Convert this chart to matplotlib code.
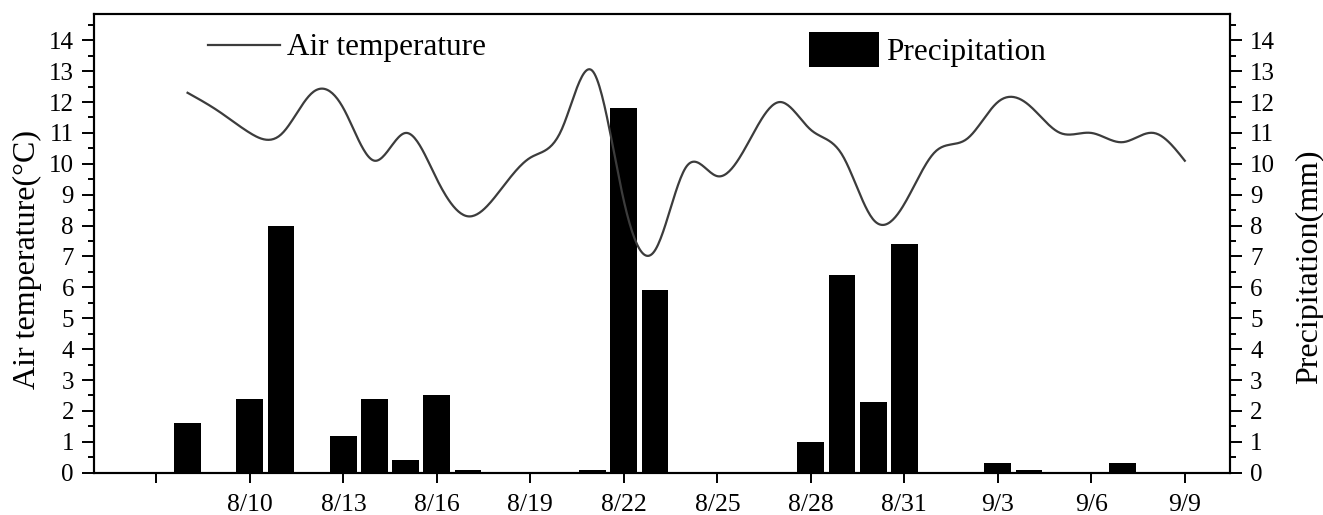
import matplotlib
matplotlib.use("Agg")
import matplotlib.pyplot as plt
import numpy as np
from matplotlib.lines import Line2D
from matplotlib.patches import Patch
from matplotlib.ticker import MultipleLocator

# daily air temperature, 8/8 .. 9/9
temp_dates = [
    "8/8", "8/9", "8/10", "8/11", "8/12", "8/13", "8/14", "8/15", "8/16",
    "8/17", "8/18", "8/19", "8/20", "8/21", "8/22", "8/23", "8/24", "8/25",
    "8/26", "8/27", "8/28", "8/29", "8/30", "8/31", "9/1", "9/2", "9/3",
    "9/4", "9/5", "9/6", "9/7", "9/8", "9/9",
]
temp_values = [
    12.3, 11.7, 11.0, 10.95, 12.3, 11.8, 10.1, 11.0, 9.5,
    8.3, 9.1, 10.2, 11.1, 13.0, 8.8, 7.2, 9.9, 9.6,
    10.7, 12.0, 11.1, 10.3, 8.2, 8.7, 10.4, 10.8, 12.0,
    11.9, 11.0, 11.0, 10.7, 11.0, 10.1,
]

# days with precipitation (mm)
precip_dates = [
    "8/8", "8/10", "8/11", "8/13", "8/14", "8/15", "8/16", "8/17", "8/21",
    "8/22", "8/23", "8/28", "8/29", "8/30", "8/31", "9/3", "9/4", "9/7",
]
precip_values = [
    1.6, 2.4, 8.0, 1.2, 2.4, 0.4, 2.5, 0.1, 0.1,
    11.8, 5.9, 1.0, 6.4, 2.3, 7.4, 0.3, 0.1, 0.3,
]

tick_dates = ["8/7", "8/10", "8/13", "8/16", "8/19", "8/22", "8/25",
              "8/28", "8/31", "9/3", "9/6", "9/9"]
tick_labels = ["", "8/10", "8/13", "8/16", "8/19", "8/22", "8/25",
               "8/28", "8/31", "9/3", "9/6", "9/9"]


def day_number(s):
    m, d = s.split("/")
    return int(d) + (31 if m == "9" else 0)


def natural_spline(x, y, n=800):
    # natural cubic spline through the daily points (smooth connect line)
    x = np.asarray(x, dtype=float)
    y = np.asarray(y, dtype=float)
    k = len(x)
    h = np.diff(x)
    A = np.zeros((k, k))
    b = np.zeros(k)
    A[0, 0] = 1.0
    A[-1, -1] = 1.0
    for i in range(1, k - 1):
        A[i, i - 1] = h[i - 1]
        A[i, i] = 2 * (h[i - 1] + h[i])
        A[i, i + 1] = h[i]
        b[i] = 6 * ((y[i + 1] - y[i]) / h[i] - (y[i] - y[i - 1]) / h[i - 1])
    M = np.linalg.solve(A, b)
    xs = np.linspace(x[0], x[-1], n)
    idx = np.clip(np.searchsorted(x, xs) - 1, 0, k - 2)
    x0, x1 = x[idx], x[idx + 1]
    hh = x1 - x0
    t0 = x1 - xs
    t1 = xs - x0
    ys = (M[idx] * t0 ** 3 + M[idx + 1] * t1 ** 3) / (6 * hh) \
        + (y[idx] / hh - M[idx] * hh / 6) * t0 \
        + (y[idx + 1] / hh - M[idx + 1] * hh / 6) * t1
    return xs, ys


plt.rcParams["font.family"] = ["Liberation Serif", "DejaVu Serif"]

tx = [day_number(s) for s in temp_dates]
px = [day_number(s) for s in precip_dates]
sx, sy = natural_spline(tx, temp_values)

fig = plt.figure(figsize=(13.23, 5.15), dpi=100)
ax = fig.add_axes([0.0711, 0.0821, 0.8586, 0.8907])
ax2 = ax.twinx()

ax2.bar(px, precip_values, width=0.86, color="black", edgecolor="none")
ax.plot(sx, sy, color="#3c3c3c", linewidth=1.6)

ax.set_zorder(ax2.get_zorder() + 1)
ax.patch.set_visible(False)

ymax = 14.85
for a in (ax, ax2):
    a.set_ylim(0, ymax)
    a.yaxis.set_major_locator(MultipleLocator(1))
    a.yaxis.set_minor_locator(MultipleLocator(0.5))
    a.tick_params(axis="y", which="major", direction="out", length=8.5, width=1.4,
                  labelsize=18, pad=6)
    a.tick_params(axis="y", which="minor", direction="out", length=4.5, width=1.4)
    for sp in a.spines.values():
        sp.set_linewidth(1.5)

ax.set_xlim(5.0, 41.45)
ax.set_xticks([day_number(s) for s in tick_dates])
ax.set_xticklabels(tick_labels)
ax.tick_params(axis="x", direction="out", length=7.5, width=1.4, labelsize=18.5, pad=8)

ax.set_ylabel("Air temperature(\u00b0C)", fontsize=23)
ax2.set_ylabel("Precipitation(mm)", fontsize=23)
ax.yaxis.set_label_coords(-0.0458, 0.465)
ax2.yaxis.set_label_coords(1.0572, 0.45)

fs = 22.5
leg1 = ax.legend(handles=[Line2D([], [], color="#3c3c3c", linewidth=1.6)],
                 labels=["Air temperature"], loc="center left",
                 bbox_to_anchor=(0.1004, 0.926), frameon=False, fontsize=fs,
                 borderpad=0, borderaxespad=0, handlelength=2.3, handletextpad=0.24)
ax.add_artist(leg1)
ax.legend(handles=[Patch(facecolor="black", edgecolor="none")],
          labels=["Precipitation"], loc="center left",
          bbox_to_anchor=(0.6294, 0.922), frameon=False, fontsize=fs,
          borderpad=0, borderaxespad=0, handlelength=2.25, handleheight=1.33,
          handletextpad=0.22)

fig.savefig("out.png", dpi=100)
